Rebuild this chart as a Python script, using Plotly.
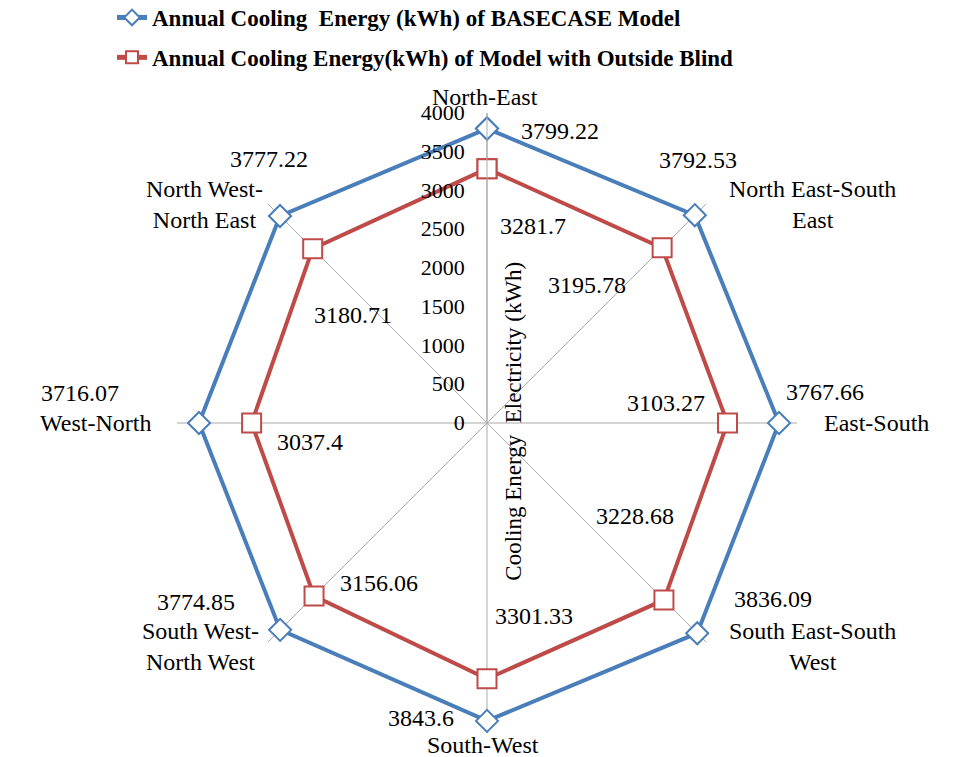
import plotly.graph_objects as go

categories = ["North-East", "North East-South East", "East-South", "South East-South West",
              "South-West", "South West-North West", "West-North", "North West-North East"]
basecase = [3799.22, 3792.53, 3767.66, 3836.09, 3843.6, 3774.85, 3716.07, 3777.22]
blind = [3281.7, 3195.78, 3103.27, 3228.68, 3301.33, 3156.06, 3037.4, 3180.71]
radial_ticks = list(range(0, 4001, 500))

W, H = 961, 757
FONT = "Liberation Serif"
BLUE = "#4A7EBB"
RED = "#BE4B48"

fig = go.Figure()
fig.add_trace(go.Scatterpolar(
    r=basecase + basecase[:1], theta=categories + categories[:1],
    mode="lines+markers", name="Annual Cooling  Energy (kWh) of BASECASE Model",
    line=dict(color=BLUE, width=4),
    marker=dict(symbol="diamond", size=17, color="white", line=dict(color=BLUE, width=2)),
    legendgroup="a", cliponaxis=False,
))
fig.add_trace(go.Scatterpolar(
    r=blind + blind[:1], theta=categories + categories[:1],
    mode="lines+markers", name="Annual Cooling Energy(kWh) of Model with Outside Blind",
    line=dict(color=RED, width=4),
    marker=dict(symbol="square", size=19, color="white", line=dict(color=RED, width=2)),
    legendgroup="b", cliponaxis=False,
))

# polar geometry (pixels)
cx, cy, R = 487, 423, 310
dom_x = [(cx - R) / W, (cx + R) / W]
dom_y = [(H - cy - R) / H, (H - cy + R) / H]

def px(x, y):
    x = cx + (x - cx) * 0.95
    return x / W, 1 - y / H

def label(x, y, text, size=24, **kw):
    ax, ay = px(x, y)
    return dict(x=ax, y=ay, xref="paper", yref="paper", xanchor="center", yanchor="middle",
                text=text, showarrow=False, font=dict(family=FONT, size=size, color="#000"), **kw)

annotations = []
blue_pos = [(564, 131), (709, 160), (843, 392), (788, 599), (418, 718), (181, 602), (59, 393), (257, 159)]
red_pos = [(535, 226), (592, 285), (675, 403), (643, 516), (536, 616), (373, 583), (301, 442), (346, 315)]
for v, (x, y) in zip(basecase, blue_pos):
    annotations.append(label(x, y, f"{v:g}"))
for v, (x, y) in zip(blind, red_pos):
    annotations.append(label(x, y, f"{v:g}"))

cat_text = ["North-East", "North East-South<br>East", "East-South", "South East-South<br>West",
            "South-West", "South West-<br>North West", "West-North", "North West-<br>North East"]
cat_pos = [(485, 97), (830, 204), (897, 423), (830, 646), (483, 745), (185, 646), (75, 423), (190, 204)]
for t, (x, y) in zip(cat_text, cat_pos):
    annotations.append(label(x, y, t))

annotations.append(label(514, 421, "Cooling Energy  Electricity (kWh)", size=23, textangle=-90))

fig.update_layout(
    width=W, height=H,
    margin=dict(l=0, r=0, t=0, b=0, autoexpand=False),
    paper_bgcolor="white", plot_bgcolor="white",
    font=dict(family=FONT, size=22, color="#000"),
    polar=dict(
        domain=dict(x=dom_x, y=dom_y),
        bgcolor="white",
        angularaxis=dict(type="category", categoryarray=categories, direction="clockwise", rotation=90,
                         showticklabels=False, ticks="", showline=False,
                         showgrid=True, gridcolor="#ABABAB", gridwidth=1),
        radialaxis=dict(range=[0, 4000], tickvals=radial_ticks, angle=90, tickangle=90,
                        showgrid=False, showline=True, linecolor="#ABABAB", linewidth=1,
                        ticks="outside", ticklen=14, tickcolor="rgba(0,0,0,0)",
                        side="counterclockwise",
                        tickfont=dict(family=FONT, size=22, color="#000")),
    ),
    legend=dict(x=112 / W, y=1 + 4 / H, xanchor="left", yanchor="top",
                font=dict(family=FONT, size=23, color="#000", weight="bold"),
                tracegroupgap=7, bgcolor="rgba(0,0,0,0)", itemwidth=30, itemsizing="constant"),
    showlegend=True,
    annotations=annotations,
)

fig.write_html("out.html", config={"displayModeBar": False},
               post_script="document.body.style.margin='0';")
